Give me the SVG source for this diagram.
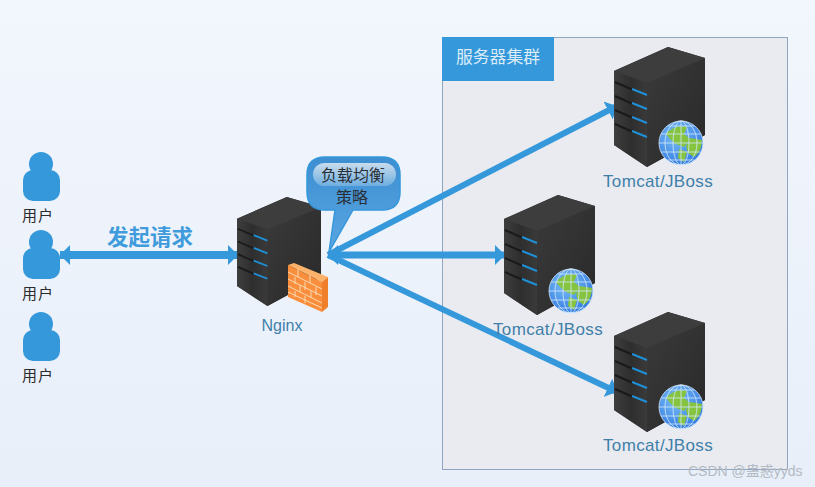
<svg xmlns="http://www.w3.org/2000/svg" width="815" height="487" viewBox="0 0 815 487">
<style>
.sans{font-family:"Liberation Sans","Noto Sans CJK SC",sans-serif}
.lbl{font-size:17px;letter-spacing:.35px;fill:#3f7fa9;text-anchor:middle}
.usr{font-size:15px;letter-spacing:1px;fill:#2b2b2b;text-anchor:middle}
.bub{font-size:16px;fill:#2a2f35;text-anchor:middle}
.conn{stroke:#3498db;fill:none}
.slot{stroke:#1a1a1a;stroke-width:2;fill:none}
.led{stroke:#1f8fd6;stroke-width:2;fill:none}
.grid{stroke:#d5e8fb;stroke-width:.8;fill:none}
</style>
<defs>
<linearGradient id="bg" x1="0" y1="0" x2="0" y2="1"><stop offset="0" stop-color="#f2f6fd"/><stop offset="1" stop-color="#e8eff9"/></linearGradient>
<linearGradient id="front" x1="0" y1="0" x2="1" y2="0"><stop offset="0" stop-color="#3e3e3e"/><stop offset=".5" stop-color="#2e2e2e"/><stop offset="1" stop-color="#3a3a3a"/></linearGradient>
<linearGradient id="side" x1="0" y1="0" x2="1" y2="1"><stop offset="0" stop-color="#3a3a3a"/><stop offset="1" stop-color="#292929"/></linearGradient>
<linearGradient id="bubble" x1="0" y1="0" x2="0" y2="1"><stop offset="0" stop-color="#3d8fd2"/><stop offset="1" stop-color="#5aa6e2"/></linearGradient>
<linearGradient id="gloss" x1="0" y1="0" x2="0" y2="1"><stop offset="0" stop-color="#c9dcec"/><stop offset="1" stop-color="#6eaee0"/></linearGradient>
<radialGradient id="globe" cx=".4" cy=".35" r=".7"><stop offset="0" stop-color="#7cc0f7"/><stop offset="1" stop-color="#2f78e0"/></radialGradient>
<marker id="ah" viewBox="0 0 10 20" refX="10" refY="10" markerUnits="userSpaceOnUse" markerWidth="10" markerHeight="20" orient="auto-start-reverse"><path d="M0 0L10 10L0 20Z" fill="#3498db"/></marker>
<g id="server">
<path d="M0 24L54 0L91 11V88L33 120L0 98Z" fill="#333"/>
<path d="M33 36L91 11V88L33 120Z" fill="url(#side)"/>
<path d="M0 24L54 0L91 11L33 36Z" fill="#3d3d3d"/>
<path d="M0 24L33 36V120L0 98Z" fill="url(#front)"/>
<path class="slot" d="M1 35L19 43M1 49L19 57M1 63L19 71M1 77L19 85"/>
<path class="led" d="M18 42L33 48M18 56L33 62M18 70L33 76M18 84L33 90"/>
</g>
<g id="earth">
<circle r="22" fill="url(#globe)" stroke="#cfe4fa" stroke-width=".8"/>
<path d="M-15 -9Q-6 -19 6 -16L3 -9L9 -4L3 4L-5 1L-10 -3Z" fill="#86c440"/>
<path d="M9 -5L21 -3Q21 8 13 14L7 10L5 3Z" fill="#86c440"/>
<path d="M-2 6L6 9L3 19L-3 15Z" fill="#86c440"/>
<path class="grid" d="M-22 0H22M-20 -9H20M-20 9H20M-13 -17H13M-13 17H13"/>
<ellipse class="grid" rx="8" ry="22"/><ellipse class="grid" rx="16" ry="22"/>
<path class="grid" d="M0 -22V22"/>
</g>
<g id="person">
<circle cx="41" cy="12" r="12" fill="#3498db"/>
<rect x="23" y="18" width="37" height="31" rx="10" fill="#3498db"/>
</g>
</defs>
<rect width="815" height="487" fill="url(#bg)"/>
<g id="cluster">
<rect x="442.500" y="37.500" width="345" height="432" fill="#e9ebf0" stroke="#8fa5c0"/>
<rect x="442" y="37" width="112" height="44" fill="#3498db"/>
<text class="sans" x="498" y="63" font-size="16.800" fill="#dcecf8" text-anchor="middle">服务器集群</text>
</g>
<g id="connectors">
<path class="conn" stroke-width="8" d="M60 255H238" marker-start="url(#ah)" marker-end="url(#ah)"/>
<path class="conn" stroke-width="7" d="M328 255H505" marker-start="url(#ah)" marker-end="url(#ah)"/>
<path class="conn" stroke-width="6" d="M328 255L617 106" marker-end="url(#ah)"/>
<path class="conn" stroke-width="6" d="M328 255L617 392" marker-end="url(#ah)"/>
</g>
<text class="sans" x="150" y="245" font-size="21.500" font-weight="bold" fill="#3f9bdc" text-anchor="middle">发起请求</text>
<g id="user1"><use href="#person" y="152"/><text class="sans usr" x="38" y="221">用户</text></g>
<g id="user2"><use href="#person" y="230"/><text class="sans usr" x="38" y="299">用户</text></g>
<g id="user3"><use href="#person" y="312"/><text class="sans usr" x="38" y="381">用户</text></g>
<g id="nginx">
<use href="#server" transform="translate(237 197) scale(.923 .908)"/>
<path d="M288 265L294 263L328 277L322 282Z" fill="#fbb26a"/>
<path d="M288 265L322 282V312L288 297Z" fill="#f98f3c"/>
<path d="M322 282L328 277V307L322 312Z" fill="#ef7f2b"/>
<path d="M288 272L322 289M288 279L322 296M288 286L322 303M288 292L322 308M298 269V277M310 275V283M295 277V284M305 282V290M316 287V295M300 285V292M311 291V298M295 291V297M305 296V303" stroke="#fcd9b4" stroke-width="1" fill="none"/>
<text class="sans lbl" x="282" y="331" style="font-size:16px;letter-spacing:0">Nginx</text>
</g>
<g id="bubble-note">
<path d="M325 157H382Q400 157 400 175V192Q400 210 382 210H353L329 252L335 210H325Q307 210 307 192V175Q307 157 325 157Z" fill="url(#bubble)" stroke="#3498db" stroke-width="1.500"/>
<rect x="313" y="163" width="83" height="23" rx="11.500" fill="url(#gloss)"/>
<text class="sans bub" x="353" y="181">负载均衡</text>
<text class="sans bub" x="352" y="203">策略</text>
</g>
<g id="tomcat1"><use href="#server" x="614" y="47"/><use href="#earth" x="681" y="143"/><text class="sans lbl" x="658" y="187">Tomcat/JBoss</text></g>
<g id="tomcat2"><use href="#server" x="504" y="195"/><use href="#earth" x="571" y="291"/><text class="sans lbl" x="548" y="335">Tomcat/JBoss</text></g>
<g id="tomcat3"><use href="#server" x="614" y="312"/><use href="#earth" x="681" y="407"/><text class="sans lbl" x="658" y="451">Tomcat/JBoss</text></g>
<text class="sans" x="688" y="476" font-size="14" fill="#b3bac3">CSDN @蛊惑yyds</text>
</svg>
